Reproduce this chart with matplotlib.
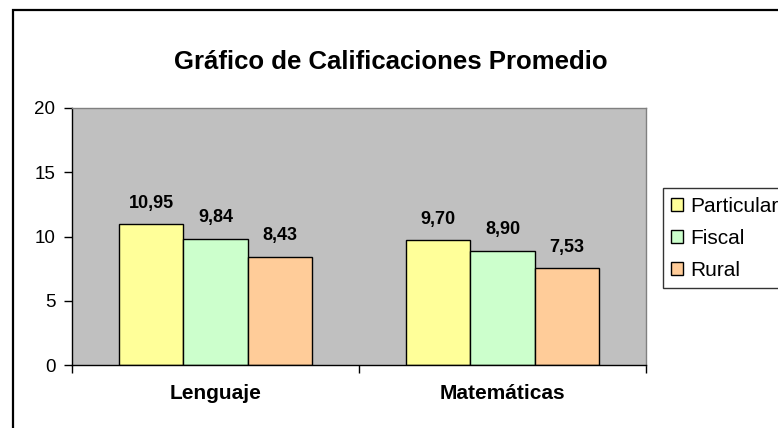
import matplotlib
matplotlib.use("Agg")
import matplotlib.pyplot as plt
from matplotlib.patches import Rectangle
import numpy as np

plt.rcParams['font.family'] = ['Liberation Sans', 'DejaVu Sans']

categories = ["Lenguaje", "Matemáticas"]
series_names = ["Particular", "Fiscal", "Rural"]
particular = [10.95, 9.70]
fiscal = [9.84, 8.90]
rural = [8.43, 7.53]
colors = ["#FFFF99", "#CCFFCC", "#FFCC99"]
yticks = [0, 5, 10, 15, 20]

W, H = 778, 428
fig = plt.figure(figsize=(W / 100, H / 100), dpi=100)
fig.patch.set_facecolor("white")

# outer chart border (cropped on right/bottom)
fig.patches.append(Rectangle((13 / W, -0.2), 1.5, 1.2 - 10 / H,
                             transform=fig.transFigure, fill=False,
                             edgecolor="black", linewidth=1.6, zorder=0))

ax = fig.add_axes([72 / W, 1 - 365 / H, 574 / W, 257 / H])
ax.set_facecolor("#C0C0C0")

x = np.arange(len(categories))
bw = 0.2245
for i, (vals, name, c) in enumerate(zip([particular, fiscal, rural], series_names, colors)):
    pos = x + (i - 1) * bw
    ax.bar(pos, vals, width=bw, color=c, edgecolor="black", linewidth=1.0,
           label=name, zorder=2)
    for xp, v in zip(pos, vals):
        ax.annotate(f"{v:.2f}".replace(".", ","), (xp, v), xytext=(0, 9),
                    textcoords="offset points", ha="center", va="bottom",
                    fontsize=13, fontweight="bold")

ax.set_xlim(-0.5, 1.5)
ax.set_ylim(0, 20)
ax.set_yticks(yticks)
ax.set_yticklabels([str(t) for t in yticks], fontsize=13.5)
ax.tick_params(axis="y", direction="out", length=6, width=1, pad=6)

ax.set_xticks([-0.5, 0.5, 1.5])
ax.set_xticklabels([])
ax.tick_params(axis="x", which="major", direction="out", length=6, width=1)
ax.set_xticks(x, minor=True)
ax.set_xticklabels(categories, minor=True, fontsize=15, fontweight="bold")
ax.tick_params(axis="x", which="minor", length=0, pad=14)

for s in ["left", "bottom"]:
    ax.spines[s].set_color("black")
    ax.spines[s].set_linewidth(1.0)
for s in ["top", "right"]:
    ax.spines[s].set_color("#808080")
    ax.spines[s].set_linewidth(1.0)

fig.text(391 / W, 1 - 62 / H, "Gráfico de Calificaciones Promedio",
         ha="center", va="center", fontsize=18.5, fontweight="bold")

leg = fig.legend(loc="lower left", bbox_to_anchor=(663 / W, 1 - 288 / H),
                 fontsize=15, frameon=True, fancybox=False, edgecolor="black",
                 handlelength=0.55, handleheight=0.55, handletextpad=0.38,
                 labelspacing=0.62, borderpad=0.4, borderaxespad=0)
leg.get_frame().set_linewidth(1.0)

fig.savefig("out.png", dpi=100, facecolor="white")
